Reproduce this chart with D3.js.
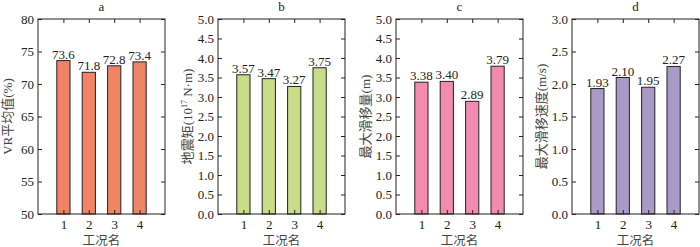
<!DOCTYPE html>
<html>
<head>
<meta charset="utf-8">
<script src="https://cdn.jsdelivr.net/npm/d3@7"></script>
<style>
  body { margin: 0; background: #fff; }
  svg text { font-family: "Liberation Serif", "Noto Sans CJK SC", serif; fill: #222; }
</style>
</head>
<body>
<div id="chart"></div>
<script>
const cases = ["1", "2", "3", "4"];
const panelTitles = ["a", "b", "c", "d"];
const vrValues = [73.6, 71.8, 72.8, 73.4];
const momentValues = [3.57, 3.47, 3.27, 3.75];
const slipValues = [3.38, 3.40, 2.89, 3.79];
const slipRateValues = [1.93, 2.10, 1.95, 2.27];
const vrTicks = [50, 55, 60, 65, 70, 75, 80];
const momentTicks = [0, 0.5, 1, 1.5, 2, 2.5, 3, 3.5, 4, 4.5, 5];
const slipTicks = [0, 0.5, 1, 1.5, 2, 2.5, 3, 3.5, 4, 4.5, 5];
const slipRateTicks = [0, 0.5, 1, 1.5, 2, 2.5, 3];

const panels = [
    { title: panelTitles[0], values: vrValues, ticks: vrTicks, domain: [50, 80], fmt: d3.format("d"), label: "VR平均值(%)", color: "#f28466", left: 38, lfmt: d3.format(".1f") },
    { title: panelTitles[1], values: momentValues, ticks: momentTicks, domain: [0, 5], fmt: d3.format(".1f"), label: null, color: "#c9dc88", left: 218, lfmt: d3.format(".2f") },
    { title: panelTitles[2], values: slipValues, ticks: slipTicks, domain: [0, 5], fmt: d3.format(".1f"), label: "最大滑移量(m)", color: "#f38ab0", left: 396, lfmt: d3.format(".2f") },
    { title: panelTitles[3], values: slipRateValues, ticks: slipRateTicks, domain: [0, 3], fmt: d3.format(".1f"), label: "最大滑移速度(m/s)", color: "#a99ac7", left: 572, lfmt: d3.format(".2f") }
];

const W = 700, H = 247;
const plotTop = 19, plotH = 195, plotW = 127;

const svg = d3.select("#chart").append("svg")
    .attr("width", W)
    .attr("height", H);

panels.forEach((p, i) => {
    const g = svg.append("g").attr("transform", `translate(${p.left}, ${plotTop})`);

    const x = d3.scaleLinear().domain([0, 5]).range([0, plotW]);
    const y = d3.scaleLinear().domain(p.domain).range([plotH, 0]);
    const barW = x(0.52) - x(0);

    // bars
    g.selectAll("rect.bar")
        .data(p.values)
        .join("rect")
        .attr("class", "bar")
        .attr("x", (d, j) => x(+cases[j]) - barW / 2)
        .attr("y", d => y(d))
        .attr("width", barW)
        .attr("height", d => plotH - y(d))
        .style("fill", p.color)
        .style("stroke", "#222")
        .style("stroke-width", 1);

    // value labels
    g.selectAll("text.val")
        .data(p.values)
        .join("text")
        .attr("class", "val")
        .attr("x", (d, j) => x(+cases[j]))
        .attr("y", d => y(d) - 2)
        .attr("text-anchor", "middle")
        .style("font-size", "13px")
        .text(d => p.lfmt(d));

    // axes, ticks inside on all sides
    const left = g.append("g")
        .call(d3.axisLeft(y).tickValues(p.ticks).tickFormat(p.fmt).tickSizeInner(-4).tickSizeOuter(0).tickPadding(4));
    const right = g.append("g")
        .attr("transform", `translate(${plotW}, 0)`)
        .call(d3.axisRight(y).tickValues(p.ticks).tickFormat("").tickSizeInner(-4).tickSizeOuter(0));
    const bottom = g.append("g")
        .attr("transform", `translate(0, ${plotH})`)
        .call(d3.axisBottom(x).tickValues(cases.map(Number)).tickFormat(d => d).tickSizeInner(-4).tickSizeOuter(0).tickPadding(6));
    const topAx = g.append("g")
        .call(d3.axisTop(x).tickValues(cases.map(Number)).tickFormat("").tickSizeInner(-4).tickSizeOuter(0));

    [left, right, bottom, topAx].forEach(a => {
        a.selectAll(".domain").remove();
        a.selectAll("line").style("stroke", "#222");
        a.selectAll("text").style("font-size", "13px").style("font-family", "Liberation Serif").style("fill", "#222");
    });

    // frame
    g.append("rect")
        .attr("width", plotW)
        .attr("height", plotH)
        .style("fill", "none")
        .style("stroke", "#222")
        .style("stroke-width", 1);

    // panel title
    g.append("text")
        .attr("x", plotW / 2)
        .attr("y", -8)
        .attr("text-anchor", "middle")
        .style("font-size", "13px")
        .text(p.title);

    // x title
    g.append("text")
        .attr("x", plotW / 2)
        .attr("y", plotH + 31)
        .attr("text-anchor", "middle")
        .style("font-size", "12.5px")
        .style("fill", "#444")
        .text("工况名");

    // y title
    const yl = g.append("text")
        .attr("transform", `translate(-26, ${plotH / 2}) rotate(-90)`)
        .attr("text-anchor", "middle")
        .style("font-size", "13px")
        .style("fill", "#444");
    if (p.label) {
        yl.text(p.label);
    } else {
        yl.append("tspan").text("地震矩(10");
        yl.append("tspan").attr("dy", -5).style("font-size", "8px").text("17");
        yl.append("tspan").attr("dy", 5).text(" N·m)");
    }
});
</script>
</body>
</html>
